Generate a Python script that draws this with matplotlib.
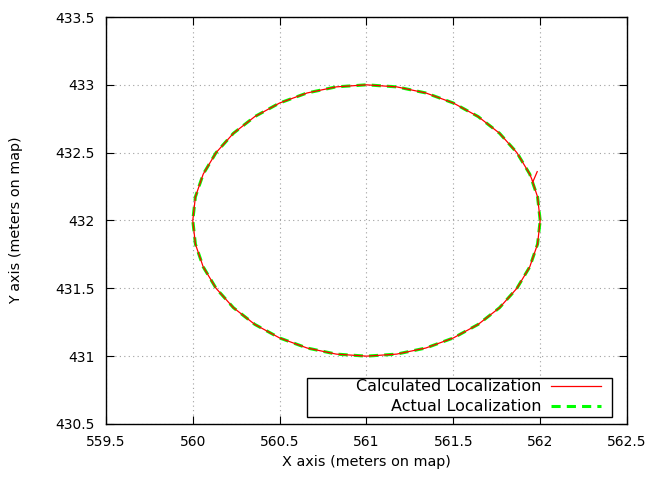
import matplotlib
matplotlib.use("Agg")
import matplotlib.pyplot as plt
from matplotlib.patches import Rectangle

# actual path, circle around (561, 432), sampled every 10 degrees
actual_x = [562.000, 561.985, 561.940, 561.866, 561.766, 561.643, 561.500, 561.342, 561.174,
            561.000, 560.826, 560.658, 560.500, 560.357, 560.234, 560.134, 560.060, 560.015,
            560.000, 560.015, 560.060, 560.134, 560.234, 560.357, 560.500, 560.658, 560.826,
            561.000, 561.174, 561.342, 561.500, 561.643, 561.766, 561.866, 561.940, 561.985,
            562.000]
actual_y = [432.000, 432.174, 432.342, 432.500, 432.643, 432.766, 432.866, 432.940, 432.985,
            433.000, 432.985, 432.940, 432.866, 432.766, 432.643, 432.500, 432.342, 432.174,
            432.000, 431.826, 431.658, 431.500, 431.357, 431.234, 431.134, 431.060, 431.015,
            431.000, 431.015, 431.060, 431.134, 431.234, 431.357, 431.500, 431.658, 431.826,
            432.000]

# calculated path: starts off the circle then follows it
calc_x = [561.983, 561.958, 561.940, 561.866, 561.766, 561.643, 561.500, 561.342, 561.174,
          561.000, 560.826, 560.658, 560.500, 560.357, 560.234, 560.134, 560.060, 560.015,
          560.000, 560.015, 560.060, 560.134, 560.234, 560.357, 560.500, 560.658, 560.826,
          561.000, 561.174, 561.342, 561.500, 561.643, 561.766, 561.866, 561.940, 561.985,
          562.000, 561.985, 561.955]
calc_y = [432.360, 432.285, 432.342, 432.500, 432.643, 432.766, 432.866, 432.940, 432.985,
          433.000, 432.985, 432.940, 432.866, 432.766, 432.643, 432.500, 432.342, 432.174,
          432.000, 431.826, 431.658, 431.500, 431.357, 431.234, 431.134, 431.060, 431.015,
          431.000, 431.015, 431.060, 431.134, 431.234, 431.357, 431.500, 431.658, 431.826,
          432.000, 432.174, 432.290]

x_ticks = [559.5, 560, 560.5, 561, 561.5, 562, 562.5]
y_ticks = [430.5, 431, 431.5, 432, 432.5, 433, 433.5]
x_labels = ["559.5", "560", "560.5", "561", "561.5", "562", "562.5"]
y_labels = ["430.5", "431", "431.5", "432", "432.5", "433", "433.5"]

plt.rcParams['font.family'] = ['DejaVu Sans']
fig = plt.figure(figsize=(6.46, 4.83), dpi=100)
ax = fig.add_axes([0.164, 0.1222, 0.8066, 0.8426])

ax.plot(calc_x, calc_y, color='#ff0000', lw=0.9, label='Calculated Localization', zorder=3)
ax.plot(actual_x, actual_y, color='#00ff00', lw=2.2, ls=(0, (3, 2)),
        label='Actual Localization', zorder=2)

ax.set_xlim(559.5, 562.5)
ax.set_ylim(430.5, 433.5)
ax.set_xticks(x_ticks)
ax.set_xticklabels(x_labels)
ax.set_yticks(y_ticks)
ax.set_yticklabels(y_labels)
ax.tick_params(direction='in', length=6, width=0.8, top=True, right=True,
               labelsize=10, pad=8, colors='black')
ax.grid(True, ls=(0, (1, 3)), color='#a0a0a0', lw=0.8)
for s in ax.spines.values():
    s.set_linewidth(1.0)

ax.set_xlabel('X axis (meters on map)', fontsize=10.4, labelpad=4)
ax.set_ylabel('Y axis (meters on map)', fontsize=10.4, labelpad=23)

# gnuplot-style key: wide white box, text right aligned, samples on the right
box = Rectangle((0.386, 0.018), 0.585, 0.095, transform=ax.transAxes,
                facecolor='white', edgecolor='black', lw=1.0, zorder=4)
ax.add_patch(box)
leg = ax.legend(loc='lower right', bbox_to_anchor=(0.950, 0.024), markerfirst=False,
                fontsize=11.5, handlelength=3.1, frameon=False, borderpad=0,
                labelspacing=0.3, handletextpad=0.65, borderaxespad=0)
leg.set_zorder(5)

fig.savefig('out.png', dpi=100)
